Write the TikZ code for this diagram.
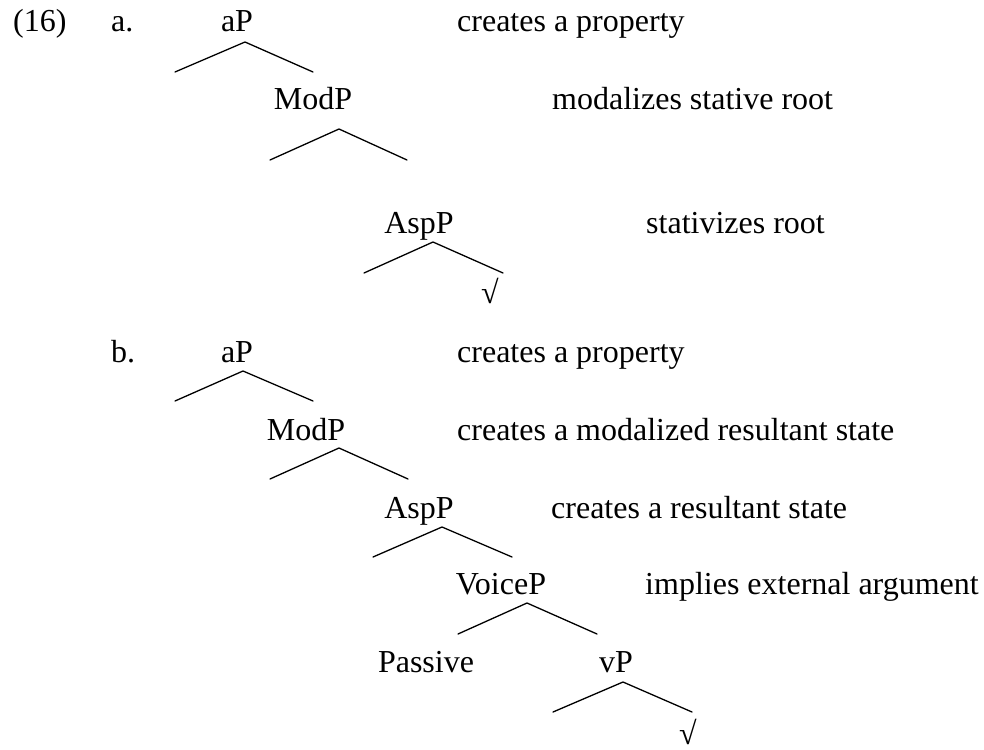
\documentclass[tikz,border=0pt]{standalone}
\usepackage{fontspec}
\setmainfont{Liberation Serif}
\begin{document}
\begin{tikzpicture}[x=1pt,y=-1pt,
  lbl/.style={anchor=base,inner sep=0pt,font=\fontsize{32}{38}\selectfont},
  cmt/.style={anchor=base west,inner sep=0pt,font=\fontsize{32}{38}\selectfont},
  branch/.style={line width=1.3pt,line cap=round}]
\useasboundingbox (0,0) rectangle (984,749);
% ---------- (16a) ----------
\node[cmt] (num) at (13,32) {(16)};
\node[cmt] (la) at (111,32) {a.};
\node[lbl] (a-aP) at (237,32) {aP};
\node[cmt] (a-c1) at (457,32) {creates a property};
\coordinate (a-aP-t) at (245,42);
\coordinate (a-aP-l) at (175,72);
\coordinate (a-aP-r) at (313,72);
\node[lbl] (a-ModP) at (313,110) {ModP};
\node[cmt] (a-c2) at (552,110) {modalizes stative root};
\coordinate (a-ModP-t) at (339,129);
\coordinate (a-ModP-l) at (270,160);
\coordinate (a-ModP-r) at (407,160);
\node[lbl] (a-AspP) at (419,233) {AspP};
\node[cmt] (a-c3) at (646,233) {stativizes root};
\coordinate (a-AspP-t) at (433,242);
\coordinate (a-AspP-l) at (364,273);
\coordinate (a-AspP-r) at (503,273);
\node[lbl] (a-root) at (490,303) {√};
\draw[branch] (a-aP-l) -- (a-aP-t) -- (a-aP-r);
\draw[branch] (a-ModP-l) -- (a-ModP-t) -- (a-ModP-r);
\draw[branch] (a-AspP-l) -- (a-AspP-t) -- (a-AspP-r);
% ---------- (16b) ----------
\node[cmt] (lb) at (111,362) {b.};
\node[lbl] (b-aP) at (237,362) {aP};
\node[cmt] (b-c1) at (457,362) {creates a property};
\coordinate (b-aP-t) at (243,371);
\coordinate (b-aP-l) at (175,401);
\coordinate (b-aP-r) at (313,401);
\node[lbl] (b-ModP) at (306,440) {ModP};
\node[cmt] (b-c2) at (457,440) {creates a modalized resultant state};
\coordinate (b-ModP-t) at (339,448);
\coordinate (b-ModP-l) at (270,479);
\coordinate (b-ModP-r) at (408,479);
\node[lbl] (b-AspP) at (419,518) {AspP};
\node[cmt] (b-c3) at (551,518) {creates a resultant state};
\coordinate (b-AspP-t) at (442,527);
\coordinate (b-AspP-l) at (373,557);
\coordinate (b-AspP-r) at (512,557);
\node[lbl] (b-VoiceP) at (501,594) {VoiceP};
\node[cmt] (b-c4) at (645,594) {implies external argument};
\coordinate (b-VoiceP-t) at (527,603);
\coordinate (b-VoiceP-l) at (458,634);
\coordinate (b-VoiceP-r) at (597,634);
\node[lbl] (b-Pass) at (426,672) {Passive};
\node[lbl] (b-vP) at (616,672) {vP};
\coordinate (b-vP-t) at (623,682);
\coordinate (b-vP-l) at (553,712);
\coordinate (b-vP-r) at (692,712);
\node[lbl] (b-root) at (688,744) {√};
\draw[branch] (b-aP-l) -- (b-aP-t) -- (b-aP-r);
\draw[branch] (b-ModP-l) -- (b-ModP-t) -- (b-ModP-r);
\draw[branch] (b-AspP-l) -- (b-AspP-t) -- (b-AspP-r);
\draw[branch] (b-VoiceP-l) -- (b-VoiceP-t) -- (b-VoiceP-r);
\draw[branch] (b-vP-l) -- (b-vP-t) -- (b-vP-r);
\end{tikzpicture}
\end{document}
